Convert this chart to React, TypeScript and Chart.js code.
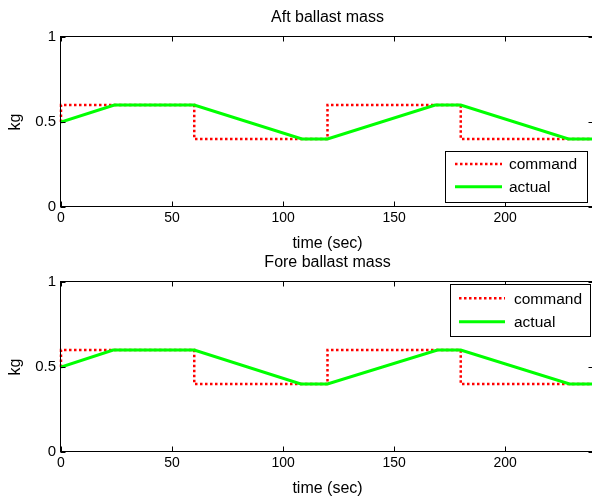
import React, { useEffect, useRef } from "react";
import { Chart, registerables } from "chart.js";

Chart.register(...registerables);

// ---- data ----
const seriesLabels = ["command", "actual"];
const plotTitles = ["Aft ballast mass", "Fore ballast mass"];
const xAxisLabel = "time (sec)";
const yAxisLabel = "kg";
const xTickValues = [0, 50, 100, 150, 200];
const yTickValues = [0, 0.5, 1];

const aftCommandTime = [0, 0, 60, 60, 120, 120, 180, 180, 240];
const aftCommandKg = [0.5, 0.6, 0.6, 0.4, 0.4, 0.6, 0.6, 0.4, 0.4];
const aftActualTime = [0, 24, 60, 108.5, 120, 168.5, 180, 228.5, 240];
const aftActualKg = [0.5, 0.6, 0.6, 0.4, 0.4, 0.6, 0.6, 0.4, 0.4];

const foreCommandTime = [0, 0, 60, 60, 120, 120, 180, 180, 240];
const foreCommandKg = [0.5, 0.6, 0.6, 0.4, 0.4, 0.6, 0.6, 0.4, 0.4];
const foreActualTime = [0, 23.5, 60, 108, 120, 169.5, 180, 229, 240];
const foreActualKg = [0.5, 0.6, 0.6, 0.4, 0.4, 0.6, 0.6, 0.4, 0.4];

const FONT = "'Liberation Sans', Arial, Helvetica, sans-serif";

const toPoints = (xs: number[], ys: number[]) => xs.map((x, i) => ({ x, y: ys[i] }));

const framePlugin = {
  id: "matlabFrame",
  afterDatasetsDraw(chart: any, _args: any, opts: any) {
    const { ctx, chartArea: a, scales } = chart;
    const L = Math.round(a.left) - 0.5;
    const T = Math.round(a.top) - 0.5;
    const R = Math.round(a.right) - 0.5;
    const B = Math.round(a.bottom) - 0.5;
    const tl = 5;
    ctx.save();
    ctx.strokeStyle = "#000";
    ctx.lineWidth = 1;
    ctx.setLineDash([]);
    ctx.strokeRect(L, T, R - L, B - T);
    ctx.beginPath();
    for (const t of scales.x.ticks) {
      const px = Math.floor(scales.x.getPixelForValue(t.value)) + 0.5;
      ctx.moveTo(px, B);
      ctx.lineTo(px, B - tl);
      ctx.moveTo(px, T);
      ctx.lineTo(px, T + tl);
    }
    for (const t of scales.y.ticks) {
      const py = Math.floor(scales.y.getPixelForValue(t.value)) + 0.5;
      ctx.moveTo(L, py);
      ctx.lineTo(L + tl, py);
      ctx.moveTo(R, py);
      ctx.lineTo(R - tl, py);
    }
    ctx.stroke();

    // legend box
    const lg = opts.legend;
    if (lg) {
      ctx.fillStyle = "#fff";
      ctx.fillRect(lg.x1, lg.y1, lg.x2 - lg.x1, lg.y2 - lg.y1);
      ctx.strokeStyle = "#000";
      ctx.lineWidth = 1;
      ctx.strokeRect(lg.x1 + 0.5, lg.y1 + 0.5, lg.x2 - lg.x1, lg.y2 - lg.y1);
      const dsOrder = [0, 1];
      dsOrder.forEach((di, row) => {
        const ds = chart.data.datasets[di];
        const y = lg.rows[row];
        ctx.save();
        ctx.strokeStyle = ds.borderColor;
        ctx.lineWidth = ds.borderWidth;
        ctx.setLineDash(ds.borderDash || []);
        ctx.beginPath();
        ctx.moveTo(lg.s1, y);
        ctx.lineTo(lg.s2, y);
        ctx.stroke();
        ctx.restore();
        ctx.fillStyle = "#000";
        ctx.font = `15.5px ${FONT}`;
        ctx.textBaseline = "middle";
        ctx.textAlign = "left";
        ctx.fillText(ds.label, lg.tx, y + 1);
      });
    }
    ctx.restore();
  },
};

function makeConfig(title: string, cmdT: number[], cmdV: number[], actT: number[], actV: number[], legend: any) {
  return {
    type: "line" as const,
    data: {
      datasets: [
        {
          label: seriesLabels[0],
          data: toPoints(cmdT, cmdV),
          borderColor: "#ff0000",
          borderWidth: 2.5,
          borderDash: [2.5, 2.5],
          pointRadius: 0,
          tension: 0,
          fill: false,
          order: 1,
          clip: 3,
        },
        {
          label: seriesLabels[1],
          data: toPoints(actT, actV),
          borderColor: "#00ff00",
          borderWidth: 3,
          pointRadius: 0,
          tension: 0,
          fill: false,
          order: 0,
        },
      ],
    },
    options: {
      responsive: false,
      animation: false,
      devicePixelRatio: 1,
      events: [],
      layout: { padding: { left: 0, right: 6, top: 0, bottom: 0 } },
      plugins: {
        legend: { display: false },
        tooltip: { enabled: false },
        title: {
          display: true,
          text: title,
          fullSize: false,
          color: "#000",
          font: { family: FONT, size: 16, weight: "normal", lineHeight: 1.2 },
          padding: { top: 8.2, bottom: 9.6 },
        },
        matlabFrame: { legend },
      },
      scales: {
        x: {
          type: "linear",
          min: 0,
          max: 240,
          grid: { display: false, drawTicks: false },
          border: { display: false },
          afterBuildTicks: (s: any) => {
            s.ticks = xTickValues.map((v) => ({ value: v }));
          },
          afterFit: (s: any) => {
            s.height = 48;
          },
          ticks: {
            color: "#000",
            font: { family: FONT, size: 14 },
            padding: 3,
            maxRotation: 0,
            autoSkip: false,
            callback: (v: any) => String(v),
          },
          title: {
            display: true,
            text: xAxisLabel,
            color: "#000",
            font: { family: FONT, size: 16, lineHeight: 1 },
            padding: { top: 0, bottom: 3 },
          },
        },
        y: {
          type: "linear",
          min: 0,
          max: 1,
          grid: { display: false, drawTicks: false },
          border: { display: false },
          afterBuildTicks: (s: any) => {
            s.ticks = yTickValues.map((v) => ({ value: v }));
          },
          afterFit: (s: any) => {
            s.width = 61;
          },
          ticks: {
            color: "#000",
            font: { family: FONT, size: 15 },
            padding: 5,
            callback: (v: any) => String(v),
          },
          title: {
            display: true,
            text: yAxisLabel,
            color: "#000",
            font: { family: FONT, size: 16, lineHeight: 1.2 },
            padding: { top: 5.7, bottom: 0 },
          },
        },
      },
    },
    plugins: [framePlugin],
  };
}

function Plot(props: { top: number; config: any }) {
  const ref = useRef<HTMLCanvasElement | null>(null);
  useEffect(() => {
    if (!ref.current) return;
    const chart = new Chart(ref.current, props.config);
    return () => chart.destroy();
  }, []);
  return (
    <canvas
      ref={ref}
      width={600}
      height={255}
      style={{ position: "absolute", left: 0, top: props.top, width: 600, height: 255 }}
    />
  );
}

export default function App() {
  const topCfg = makeConfig(plotTitles[0], aftCommandTime, aftCommandKg, aftActualTime, aftActualKg, {
    x1: 445,
    y1: 151,
    x2: 587,
    y2: 202,
    rows: [164, 186.7],
    s1: 455,
    s2: 502,
    tx: 509,
  });
  const botCfg = makeConfig(plotTitles[1], foreCommandTime, foreCommandKg, foreActualTime, foreActualKg, {
    x1: 450,
    y1: 39,
    x2: 590,
    y2: 91,
    rows: [53.3, 76.7],
    s1: 459,
    s2: 505,
    tx: 514,
  });
  return (
    <div
      style={{
        position: "fixed",
        left: 0,
        top: 0,
        width: 592,
        height: 497,
        overflow: "hidden",
        background: "#fff",
      }}
    >
      <Plot top={0} config={topCfg} />
      <Plot top={245} config={botCfg} />
    </div>
  );
}
